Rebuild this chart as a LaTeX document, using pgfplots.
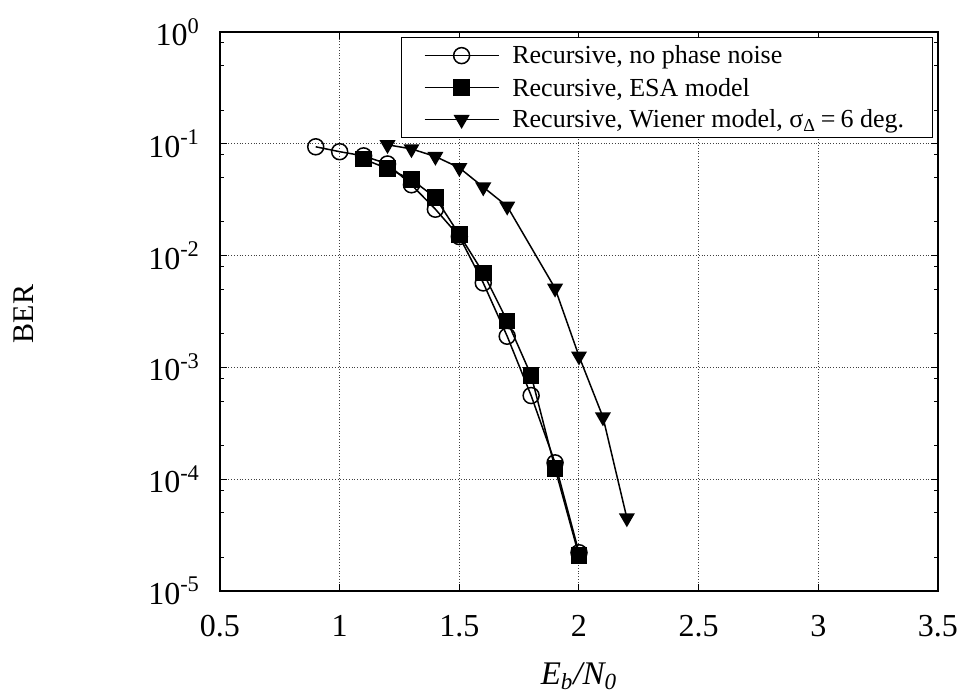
\documentclass[border=0pt]{standalone}
\usepackage{pgfplots}
\pgfplotsset{compat=1.18}
\usepackage{fontspec}
\setmainfont{Liberation Serif}
\begin{document}
\begin{tikzpicture}
\useasboundingbox (-110pt,-52pt) rectangle (370pt,295.5pt);
\begin{axis}[
  at={(0,0)}, anchor=south west,
  scale only axis,
  width=359pt, height=279.5pt,
  xmin=0.5, xmax=3.5,
  ymode=log, ymin=1e-5, ymax=1,
  xtick={0.5,1,1.5,2,2.5,3,3.5},
  xticklabels={0.5,1,1.5,2,2.5,3,3.5},
  ytick={1e-5,1e-4,1e-3,1e-2,1e-1,1},
  yticklabels={10\textsuperscript{-5},10\textsuperscript{-4},10\textsuperscript{-3},10\textsuperscript{-2},10\textsuperscript{-1},10\textsuperscript{0}},
  minor ytick={2e-5,5e-5,8e-5,2e-4,5e-4,8e-4,2e-3,5e-3,8e-3,2e-2,5e-2,8e-2,0.2,0.5,0.8},
  /pgf/number format/assume math mode=true,
  tick align=inside,
  major tick length=3.5pt, minor tick length=2pt,
  tick style={black, line width=0.5pt},
  axis line style={line width=0.7pt},
  xmajorgrids, ymajorgrids,
  major grid style={densely dotted, black!75, line width=0.5pt},
  ticklabel style={font=\fontsize{16}{18}\selectfont},
  xticklabel style={yshift=-8.5pt},
  yticklabel style={xshift=-6.5pt},
  xlabel={\textit{E\textsubscript{b}/N\textsubscript{0}}},
  ylabel={BER},
  x label style={at={(axis description cs:0.5,0)}, anchor=center, yshift=-42.5pt, font=\fontsize{16.5}{18}\selectfont},
  y label style={at={(axis description cs:-0.273,0.4955)}, anchor=center, font=\fontsize{15}{17}\selectfont},
  legend style={at={(axis description cs:0.993,0.991)}, anchor=north east, draw=black, line width=0.6pt, fill=white,
    font=\fontsize{13}{15}\selectfont, row sep=0pt, inner sep=1pt,
    nodes={inner xsep=2.5pt, inner ysep=1.5pt, text height=10.5pt, text depth=2.5pt}},
  legend cell align=left,
  legend image code/.code={\draw[mark repeat=2,mark phase=2,#1] plot coordinates {(0pt,0pt) (18.5pt,0pt) (37pt,0pt)}; \path (-10pt,0pt) (41pt,0pt);},
  every axis plot/.append style={black, line width=0.75pt},
]
\addplot[mark=o, mark size=4pt, mark options={line width=0.75pt}] coordinates {
(0.9,0.094) (1.0,0.085) (1.1,0.078) (1.2,0.066) (1.3,0.043) (1.4,0.026) (1.5,0.0148) (1.6,0.0057) (1.7,0.0019) (1.8,5.6e-4) (1.9,1.4e-4) (2.0,2.2e-5)};
\addlegendentry{\parbox{206.5pt}{Recursive, no phase noise}}
\addplot[mark=square*, mark size=3.75pt, mark options={fill=black}] coordinates {
(1.1,0.073) (1.2,0.060) (1.3,0.048) (1.4,0.033) (1.5,0.0154) (1.6,0.0070) (1.7,0.0026) (1.8,8.5e-4) (1.9,1.25e-4) (2.0,2.07e-5)};
\addlegendentry{\parbox{206.5pt}{Recursive, ESA model}}
\addplot[mark=triangle*, mark size=3.9pt, mark options={fill=black, rotate=180}] coordinates {
(1.2,0.098) (1.3,0.090) (1.4,0.077) (1.5,0.061) (1.6,0.041) (1.7,0.0276) (1.9,0.0051) (2.0,1.26e-3) (2.1,3.6e-4) (2.2,4.5e-5)};
\addlegendentry{\parbox{206.5pt}{Recursive, Wiener model, σ\textsubscript{Δ}\kern2.5pt=\kern2.5pt6 deg.}}
\end{axis}
\end{tikzpicture}
\end{document}
